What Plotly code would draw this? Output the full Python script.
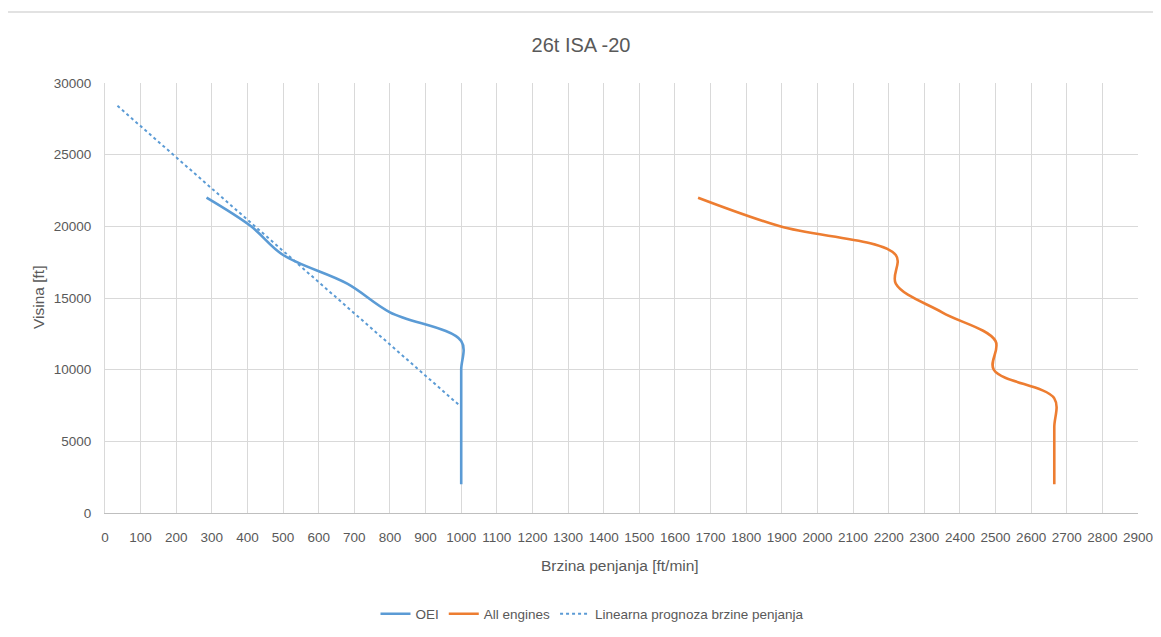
import numpy as np
import plotly.graph_objects as go

# ---- data ----
altitude_ft = [2000, 4000, 6000, 8000, 10000, 12000, 14000, 16000, 18000, 20000, 22000]
oei_roc = [1000, 1000, 1000, 1000, 1000, 1000, 800, 680, 500, 410, 285]
all_engines_roc = [2665, 2665, 2665, 2665, 2495, 2500, 2350, 2220, 2220, 1895, 1665]
trend_backward_forecast = 250  # ft/min, Excel-style backward forecast of the linear trend

x_tick_vals = list(range(0, 3000, 100))
y_tick_vals = list(range(0, 35000, 5000))
y_tick_text = [str(v) for v in y_tick_vals]

title_text = "26t ISA -20"
x_title = "Brzina penjanja [ft/min]"
y_title = "Visina [ft]"
names = ["OEI", "All engines", "Linearna prognoza brzine penjanja"]

# ---- linear trend of OEI (altitude as a function of rate of climb) ----
slope, intercept = np.polyfit(oei_roc, altitude_ft, 1)
trend_x = np.array([min(oei_roc) - trend_backward_forecast, max(oei_roc)])
trend_y = slope * trend_x + intercept

BLUE = "#5B9BD5"
ORANGE = "#ED7D31"
TXT = "#595959"
GRID = "#D9D9D9"
FONT = "Liberation Sans, Arial, sans-serif"

OFF = 8  # page body margin
WIN_W, WIN_H = 1161, 637
W, H = WIN_W - OFF, WIN_H - OFF
# plot area in window pixels: x 105..1138, y 83..513
PX0, PX1, PY0, PY1 = 105, 1138, 83, 513
L, R, T, B = PX0 - OFF, W - (PX1 - OFF), PY0 - OFF, H - (PY1 - OFF)
pw, ph = W - L - R, H - T - B


def px_x(p):
    return (p - PX0) / pw


def px_y(p):
    return (PY1 - p) / ph


def cont_x(p):
    return (p - OFF) / W


def cont_y(p):
    return 1 - (p - OFF) / H


fig = go.Figure()
fig.add_trace(go.Scatter(x=oei_roc, y=altitude_ft, mode="lines", name=names[0],
                         line=dict(color=BLUE, width=2.6, shape="spline", smoothing=1)))
fig.add_trace(go.Scatter(x=all_engines_roc, y=altitude_ft, mode="lines", name=names[1],
                         line=dict(color=ORANGE, width=2.6, shape="spline", smoothing=1)))
fig.add_trace(go.Scatter(x=trend_x, y=trend_y, mode="lines", name=names[2],
                         line=dict(color=BLUE, width=2, dash="dot")))

fig.update_layout(
    width=W, height=H,
    margin=dict(l=L, r=R, t=T, b=B, autoexpand=False),
    paper_bgcolor="white", plot_bgcolor="white",
    font=dict(family=FONT, size=13.5, color=TXT),
    title=dict(text=title_text, x=cont_x(581), xref="container",
               y=cont_y(45), yref="container", yanchor="middle", xanchor="center",
               font=dict(size=20, color=TXT, family=FONT)),
    showlegend=True,
    legend=dict(orientation="h", x=cont_x(592), xref="container", xanchor="center",
                y=cont_y(614), yref="container", yanchor="middle",
                font=dict(size=13.5, color=TXT), bgcolor="rgba(0,0,0,0)"),
    xaxis=dict(range=[0, 2900], tickmode="array", tickvals=x_tick_vals,
               showgrid=True, gridcolor=GRID, gridwidth=1, zeroline=False,
               showline=True, linecolor="#BFBFBF", linewidth=1, automargin=False,
               ticks="", tickangle=0, ticklabelstandoff=12, ticklabeloverflow="allow",
               tickfont=dict(size=13.5, color=TXT)),
    yaxis=dict(range=[0, 30000], tickmode="array", tickvals=y_tick_vals, ticktext=y_tick_text,
               showgrid=True, gridcolor=GRID, gridwidth=1, zeroline=False,
               showline=True, linecolor=GRID, linewidth=1, automargin=False,
               ticks="", ticklabelstandoff=10,
               tickfont=dict(size=13.5, color=TXT)),
    annotations=[
        dict(text=x_title, xref="paper", yref="paper", x=px_x(620), y=px_y(565),
             xanchor="center", yanchor="middle", showarrow=False,
             font=dict(size=15.5, color=TXT)),
        dict(text=y_title, xref="paper", yref="paper", x=px_x(38), y=px_y(298),
             xanchor="center", yanchor="middle", showarrow=False, textangle=-90,
             font=dict(size=15.5, color=TXT)),
    ],
    shapes=[
        dict(type="rect", xref="paper", yref="paper", x0=px_x(6), y0=px_y(WIN_H + 40),
             x1=px_x(WIN_W + 40), y1=px_y(12), line=dict(color=GRID, width=1.3),
             fillcolor="rgba(0,0,0,0)", layer="below"),
    ],
)

fig.write_html("out.html")
